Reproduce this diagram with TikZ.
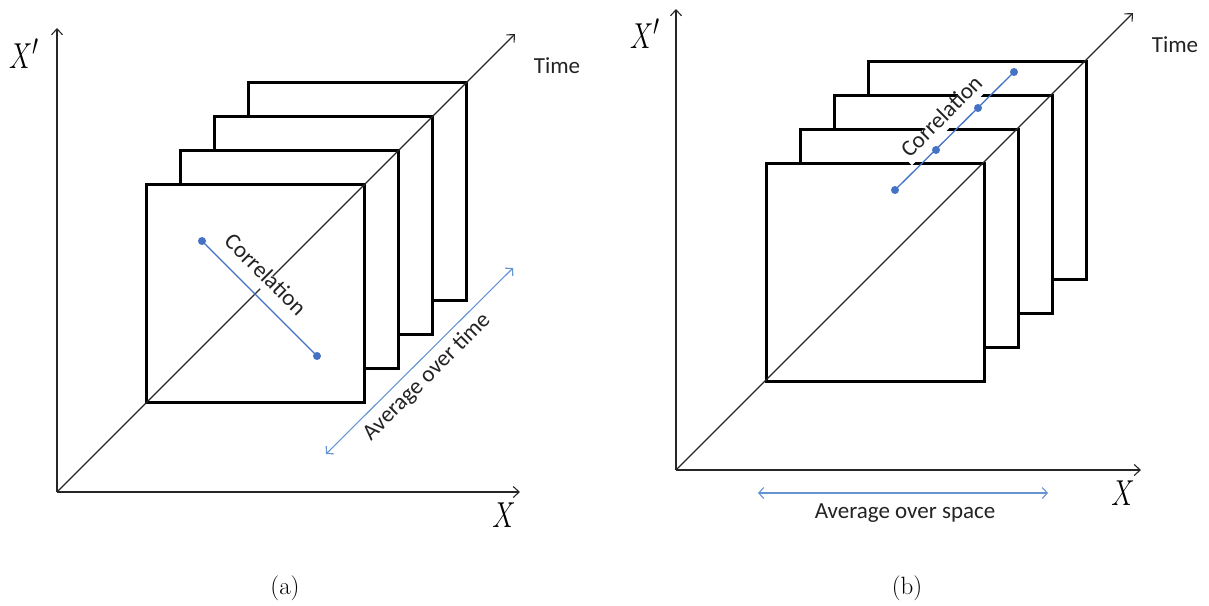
\documentclass[tikz,border=0pt]{standalone}
\usepackage{fontspec}
\newfontfamily\carlito{Carlito}
\usetikzlibrary{arrows.meta}
\definecolor{corrblue}{RGB}{68,114,196}
\definecolor{avgblue}{RGB}{100,148,212}
\definecolor{txtgray}{RGB}{35,35,35}
\tikzset{
 axisline/.style={line width=1.1pt, draw=black!85, -{Straight Barb[length=6pt,width=11pt,line width=1.1pt]}},
 slab/.style={line width=3pt, draw=black, fill=white, minimum width=218pt, minimum height=218pt, anchor=south west, outer sep=0pt, inner sep=0pt},
 lbl/.style={font=\carlito\fontsize{23}{27}\selectfont, text=txtgray, inner sep=0pt},
 corrtxt/.style={lbl, fill=white, text height=0.72em, text depth=0.22em, inner xsep=3pt, inner ysep=4pt},
 corrline/.style={line width=1.3pt, draw=corrblue},
 corrdot/.style={circle, fill=corrblue, inner sep=0pt, minimum size=8pt},
 avgarrow/.style={line width=1.1pt, draw=avgblue, {Straight Barb[length=5pt,width=11pt]}-{Straight Barb[length=5pt,width=11pt]}},
 mathlbl/.style={inner sep=0pt, font=\fontsize{24.88}{30}\selectfont, xscale=1.05, yscale=1.45},
 sublbl/.style={inner sep=0pt, font=\fontsize{25}{30}\selectfont},
}
\begin{document}
\begin{tikzpicture}[x=1pt,y=-1pt]
\useasboundingbox (0,0) rectangle (1209,605);
% ---------------- panel (a)
\coordinate (Oa) at (57,492);
\coordinate (Ya) at (57,28);
\coordinate (Xa) at (520,492);
\coordinate (Ta) at (515,34);
\draw[axisline] (Oa) -- (Ya);
\draw[axisline] (Oa) -- (Xa);
\node[slab] (fa4) at (248,300) {};
\node[slab] (fa3) at (214,334) {};
\node[slab] (fa2) at (180,368) {};
\node[slab] (fa1) at (146,402) {};
\draw[axisline] (Oa) -- (Ta);
\node[corrtxt, rotate=-45] (cta) at (262,278) {Correlation};
\node[corrdot] (ca1) at (202,241) {};
\node[corrdot] (ca2) at (317,356) {};
\draw[corrline] (ca1.center) -- (ca2.center);
\coordinate (ava1) at (326,454);
\coordinate (ava2) at (513,268);
\draw[avgarrow] (ava1) -- (ava2);
\node[lbl, rotate=45] (avta) at (427,377) {Average over time};
\node[mathlbl] (lYa) at (24,54) {$X'$};
\node[mathlbl] (lXa) at (504,515) {$X$};
\node[lbl] (lTa) at (557,66) {Time};
\node[sublbl] (capa) at (285,588) {(a)};
% ---------------- panel (b)
\coordinate (Ob) at (676,470);
\coordinate (Yb) at (676,9);
\coordinate (Xb) at (1141,470);
\coordinate (Tb) at (1133,13);
\draw[axisline] (Ob) -- (Yb);
\draw[axisline] (Ob) -- (Xb);
\node[slab] (fb4) at (868,279) {};
\node[slab] (fb3) at (834,313) {};
\node[slab] (fb2) at (800,347) {};
\node[slab] (fb1) at (766,381) {};
\draw[axisline] (Ob) -- (Tb);
\node[corrtxt, rotate=45] (ctb) at (945,120) {Correlation};
\node[corrdot] (cb1) at (895,190) {};
\node[corrdot] (cb2) at (936,150) {};
\node[corrdot] (cb3) at (978,108) {};
\node[corrdot] (cb4) at (1014,72) {};
\draw[corrline] (cb1.center) -- (cb4.center);
\coordinate (avb1) at (758,493);
\coordinate (avb2) at (1048,493);
\draw[avgarrow] (avb1) -- (avb2);
\node[lbl] (avtb) at (905,513) {Average over space};
\node[mathlbl] (lYb) at (645,34) {$X'$};
\node[mathlbl] (lXb) at (1123,493) {$X$};
\node[lbl] (lTb) at (1175,45) {Time};
\node[sublbl] (capb) at (907,588) {(b)};
\end{tikzpicture}
\end{document}
